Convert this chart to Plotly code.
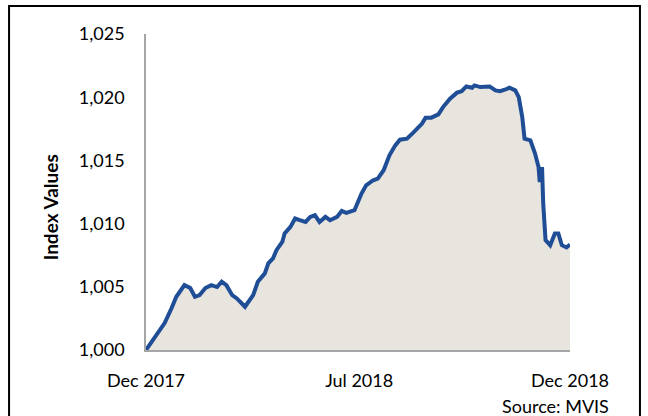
import pandas as pd
import plotly.graph_objects as go

# Days since the first observation (2017-12-29)
day_offsets = [0, 5, 11, 16, 22, 26, 33, 38, 42, 46, 51, 56, 61, 65, 69, 74, 78, 85, 92, 96,
               102, 105, 109, 112, 117, 119, 124, 128, 132, 137, 141, 145, 149, 154, 158, 164,
               168, 172, 179, 185, 189, 195, 199, 204, 209, 214, 218, 224, 229, 237, 240, 245,
               251, 255, 261, 267, 271, 275, 280, 282, 287, 291, 295, 300, 304, 308, 312, 317,
               320, 323, 325, 330, 334, 337, 338, 340, 341, 343, 347, 351, 354, 357, 361, 364]
index_values = [1000.00, 1000.66, 1001.45, 1002.13, 1003.32, 1004.21, 1005.13, 1004.90, 1004.21, 1004.34,
                1004.90, 1005.13, 1004.98, 1005.40, 1005.13, 1004.34, 1004.08, 1003.42, 1004.34, 1005.40,
                1006.06, 1006.85, 1007.24, 1007.90, 1008.55, 1009.22, 1009.74, 1010.40, 1010.27, 1010.13,
                1010.53, 1010.66, 1010.13, 1010.53, 1010.27, 1010.53, 1011.00, 1010.85, 1011.06, 1012.38,
                1013.03, 1013.43, 1013.56, 1014.22, 1015.40, 1016.19, 1016.64, 1016.72, 1017.16, 1017.91,
                1018.38, 1018.38, 1018.64, 1019.22, 1019.88, 1020.36, 1020.48, 1020.85, 1020.75, 1020.93,
                1020.80, 1020.80, 1020.85, 1020.54, 1020.48, 1020.59, 1020.75, 1020.54, 1020.01, 1018.43,
                1016.72, 1016.59, 1015.54, 1014.48, 1013.29, 1014.48, 1011.59, 1008.69, 1008.29, 1009.22,
                1009.22, 1008.29, 1008.11, 1008.35]
start_date = "2017-12-29"
x_tick_dates = ["2017-12-29", "2018-06-30", "2018-12-28"]
x_tick_labels = ["Dec 2017", "Jul 2018", "Dec 2018"]
y_ticks = [1000, 1005, 1010, 1015, 1020, 1025]

dates = pd.Timestamp(start_date) + pd.to_timedelta(day_offsets, unit="D")

FONT = "Lato"

fig = go.Figure()
fig.add_trace(go.Scatter(
    x=dates, y=index_values, mode="lines",
    line=dict(color="#1F4E96", width=4),
    fill="tozeroy", fillcolor="#E8E4DE",
    hoverinfo="x+y", showlegend=False,
))

fig.update_layout(
    width=648, height=416,
    margin=dict(l=146, r=78, t=34, b=66),
    paper_bgcolor="white", plot_bgcolor="white",
    font=dict(family=FONT, size=18, color="black"),
    xaxis=dict(
        range=[dates[0], dates[-1]],
        tickvals=x_tick_dates, ticktext=x_tick_labels,
        showgrid=False, zeroline=False,
        showline=True, linecolor="#A6A6A6", linewidth=1.5,
        ticks="", ticklabelstandoff=14,
    ),
    yaxis=dict(
        range=[1000, 1025], tickvals=y_ticks, tickformat=",",
        showgrid=False, zeroline=False,
        showline=True, linecolor="#A6A6A6", linewidth=1.5,
        ticks="", ticklabelstandoff=16,
    ),
    shapes=[dict(type="rect", xref="paper", yref="paper",
                 x0=-0.323, x1=1.165, y0=-0.25, y1=1.089,
                 line=dict(color="black", width=2), fillcolor="rgba(0,0,0,0)")],
    annotations=[
        dict(text="<b>Index Values</b>", xref="paper", yref="paper",
             x=-0.226, y=0.452, xanchor="center", yanchor="middle",
             textangle=-90, showarrow=False,
             font=dict(family=FONT, size=19, color="black")),
        dict(text="Source: MVIS", xref="paper", yref="paper",
             x=1.097, y=-0.178, xanchor="right", yanchor="middle", showarrow=False,
             font=dict(family=FONT, size=18, color="black")),
    ],
)

fig.write_html("out.html", config={"displayModeBar": False},
               post_script="document.body.style.margin='0';document.body.style.overflow='hidden';")
